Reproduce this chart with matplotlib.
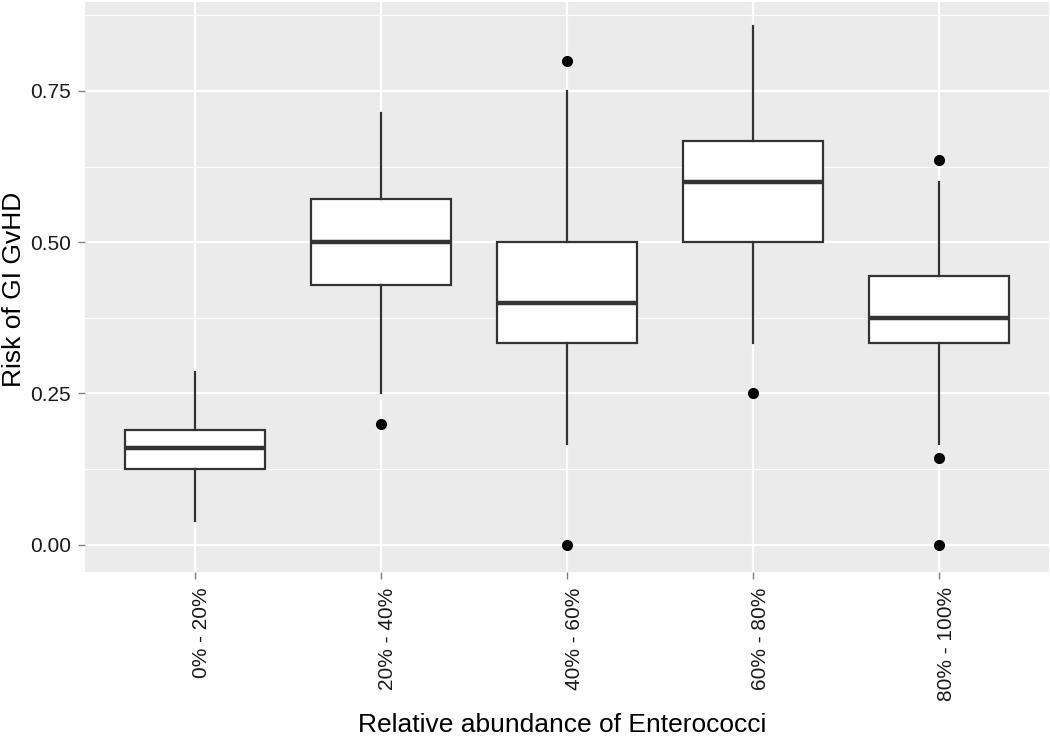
import numpy as np
import matplotlib
matplotlib.use("Agg")
import matplotlib.pyplot as plt
import matplotlib.transforms as mtransforms
from matplotlib.ticker import MultipleLocator

plt.rcParams["font.family"] = ["Liberation Sans", "DejaVu Sans"]

categories = ["0% - 20%", "20% - 40%", "40% - 60%", "60% - 80%", "80% - 100%"]
whisk_lo = [0.040, 0.250, 0.167, 0.333, 0.167]
q1 = [0.125, 0.429, 0.333, 0.500, 0.333]
median = [0.160, 0.500, 0.400, 0.600, 0.375]
q3 = [0.190, 0.571, 0.500, 0.667, 0.444]
whisk_hi = [0.286, 0.714, 0.750, 0.857, 0.600]
outliers = [[], [0.20], [0.80, 0.00], [0.25], [0.636, 0.143, 0.00]]

stats = []
for i, name in enumerate(categories):
    stats.append(dict(label=name, whislo=whisk_lo[i], q1=q1[i], med=median[i],
                      q3=q3[i], whishi=whisk_hi[i], fliers=outliers[i]))

fig = plt.figure(figsize=(10.5, 7.36), dpi=100)
ax = fig.add_axes([85 / 1050, 1 - 572 / 736, 964 / 1050, 570 / 736])
ax.set_facecolor("#EBEBEB")

pos = np.arange(1, len(categories) + 1)
ax.bxp(stats, positions=pos, widths=0.75, patch_artist=True, showcaps=False,
       boxprops=dict(facecolor="white", edgecolor="#333333", linewidth=1.6),
       medianprops=dict(color="#333333", linewidth=3.2),
       whiskerprops=dict(color="#333333", linewidth=1.6),
       flierprops=dict(marker="o", markerfacecolor="black", markeredgecolor="black",
                       markersize=7),
       zorder=3)

ax.set_xlim(0.41, 5.59)
ax.set_ylim(-0.045, 0.897)
ax.yaxis.set_minor_locator(MultipleLocator(0.125))
ax.set_yticks([0, 0.25, 0.5, 0.75])
ax.set_yticklabels(["0.00", "0.25", "0.50", "0.75"])
ax.set_xticks(pos)
ax.set_xticklabels(categories, rotation=90)

ax.grid(which="major", color="white", linewidth=1.6, zorder=0)
ax.grid(which="minor", axis="y", color="white", linewidth=0.8, zorder=0)
ax.set_axisbelow(True)
for s in ax.spines.values():
    s.set_visible(False)
ax.tick_params(which="major", length=5, width=1, color="#7f7f7f",
               labelsize=15, labelcolor="#1a1a1a", pad=5)
ax.tick_params(axis="x", pad=6)
ax.tick_params(which="minor", length=0)

# ggplot draws the rotated labels a little right of the tick
shift = mtransforms.ScaledTranslation(7 / 100, 0, fig.dpi_scale_trans)
for lab in ax.get_xticklabels():
    lab.set_transform(lab.get_transform() + shift)

ax.set_xlabel("Relative abundance of Enterococci", fontsize=19, va="center")
ax.xaxis.set_label_coords(0.495, -0.268)
ax.set_ylabel("Risk of GI GvHD", fontsize=19, va="center")
ax.yaxis.set_label_coords(-0.0737, 0.495)

fig.savefig("out.png", dpi=100)
